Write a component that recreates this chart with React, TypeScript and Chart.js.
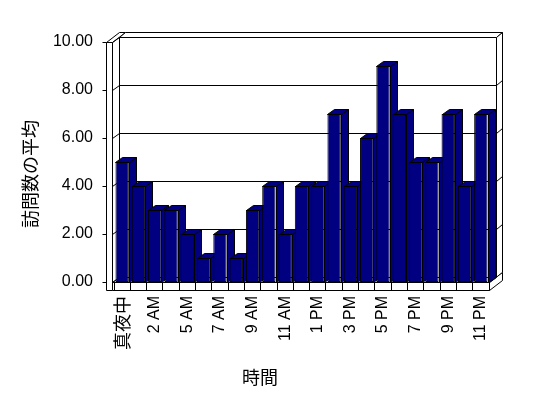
import { useEffect, useRef } from 'react';
import { Chart, registerables } from 'chart.js';
Chart.register(...registerables);

const hours = ['真夜中', '1 AM', '2 AM', '3 AM', '5 AM', '6 AM', '7 AM', '8 AM', '9 AM', '10 AM', '11 AM', '正午',
  '1 PM', '2 PM', '3 PM', '4 PM', '5 PM', '6 PM', '7 PM', '8 PM', '9 PM', '10 PM', '11 PM'];
const visits = [5, 4, 3, 3, 2, 1, 2, 1, 3, 4, 2, 4, 4, 7, 4, 6, 9, 7, 5, 5, 7, 4, 7];
const yTickValues = [0, 2, 4, 6, 8, 10];
const xTitle = '時間';
const yTitle = '訪問数の平均';

const LAT = '"Liberation Sans", Arial, "Noto Sans CJK JP", sans-serif';
const CJK = '"Noto Sans CJK JP", "Liberation Sans", sans-serif';
const NAVY = '#000080';

const sn = (v: number) => Math.round(v) + 0.5;

function poly(ctx: CanvasRenderingContext2D, pts: number[][], fill?: string) {
  ctx.beginPath();
  pts.forEach((p, i) => (i ? ctx.lineTo(sn(p[0]), sn(p[1])) : ctx.moveTo(sn(p[0]), sn(p[1]))));
  ctx.closePath();
  if (fill) { ctx.fillStyle = fill; ctx.fill(); }
  ctx.stroke();
}

const threeD = {
  id: 'threeD',
  beforeDatasetsDraw(chart: any) {
    const { ctx, chartArea: a, scales } = chart;
    const ys = scales.y;
    const L = a.left, R = a.right, T = a.top, B = a.bottom;
    const WO = L - 8, WI = L - 2;
    const dx = 7, dy = -5, ex = 13, ey = -10, fh = 8;
    ctx.save();
    ctx.lineWidth = 1;
    ctx.strokeStyle = '#000';
    // back wall inner face
    poly(ctx, [[WI + dx, T + dy], [R + dx, T + dy], [R + dx, B + dy], [WI + dx, B + dy]], '#fff');
    // left wall top
    poly(ctx, [[WO, T], [WI, T], [WI + ex, T + ey], [WO + ex, T + ey]], '#fff');
    // back wall top
    poly(ctx, [[WI + dx, T + dy], [R + dx, T + dy], [R + ex, T + ey], [WI + ex, T + ey]], '#fff');
    // back wall right face
    poly(ctx, [[R + dx, T + dy], [R + ex, T + ey], [R + ex, B + ey], [R + dx, B + dy]], '#fff');
    // floor right face
    poly(ctx, [[R, B], [R + ex, B + ey], [R + ex, B + ey + fh], [R, B + fh]], '#fff');
    // floor top face
    poly(ctx, [[WI, B], [R, B], [R + dx, B + dy], [WI + dx, B + dy]]);
    // floor front face (outline only, keeps axis tick marks)
    poly(ctx, [[WI, B], [R, B], [R, B + fh], [WI, B + fh]]);
    // left wall inner face
    poly(ctx, [[WI, T], [WI + dx, T + dy], [WI + dx, B + dy], [WI, B]]);
    // left wall front face
    poly(ctx, [[WO, T], [WI, T], [WI, B + fh], [WO, B + fh]], '#fff');
    // gridlines and y tick marks
    yTickValues.forEach((v) => {
      const yy = ys.getPixelForValue(v);
      ctx.beginPath();
      ctx.moveTo(sn(WO - 4), sn(yy));
      ctx.lineTo(sn(WO), sn(yy));
      ctx.stroke();
      if (v > 0 && v < 10) {
        ctx.beginPath();
        ctx.moveTo(sn(WI), sn(yy));
        ctx.lineTo(sn(WI + dx), sn(yy + dy));
        ctx.lineTo(sn(R + dx), sn(yy + dy));
        ctx.lineTo(sn(R + ex), sn(yy + ey));
        ctx.stroke();
      }
    });
    // bar side and top faces, left to right
    const meta = chart.getDatasetMeta(0);
    meta.data.forEach((bar: any) => {
      const { x, y, base, width } = bar.getProps(['x', 'y', 'base', 'width'], true);
      const l = x - width / 2, r = x + width / 2;
      poly(ctx, [[r, y], [r + dx, y + dy], [r + dx, base + dy], [r, base]], NAVY);
      poly(ctx, [[l, y], [r, y], [r + dx, y + dy], [l + dx, y + dy]], NAVY);
    });
    ctx.restore();
  },
  afterDraw(chart: any) {
    const { ctx } = chart;
    ctx.save();
    ctx.fillStyle = '#000';
    ctx.font = '18px ' + CJK;
    ctx.textAlign = 'center';
    ctx.textBaseline = 'middle';
    ctx.fillText(xTitle, 260, 377);
    ctx.translate(30, 174);
    ctx.rotate(-Math.PI / 2);
    ctx.fillText(yTitle, 0, 0);
    ctx.restore();
  },
};

export default function App() {
  const ref = useRef<HTMLCanvasElement | null>(null);
  useEffect(() => {
    document.body.style.margin = '0';
    const chart = new Chart(ref.current as HTMLCanvasElement, {
      type: 'bar',
      data: {
        labels: hours,
        datasets: [{
          data: visits,
          backgroundColor: NAVY,
          borderColor: '#000',
          borderWidth: 1,
          borderSkipped: false,
          categoryPercentage: 1,
          barPercentage: 0.82,
        }],
      },
      options: {
        animation: false,
        responsive: false,
        devicePixelRatio: 1,
        layout: { padding: { left: 0, right: 59, top: 42, bottom: 0 } },
        plugins: { legend: { display: false }, tooltip: { enabled: false }, title: { display: false } },
        scales: {
          x: {
            afterFit: (s: any) => { s.height = 116; },
            grid: { display: true, drawOnChartArea: false, drawTicks: true, tickLength: 8, color: '#000', offset: true },
            border: { display: false },
            ticks: {
              autoSkip: false,
              minRotation: 90,
              maxRotation: 90,
              padding: 6,
              color: '#000',
              font: (c: any) => (c.index === 0 ? { family: CJK, size: 18 } : { family: LAT, size: 16 }),
              callback: (_v: any, i: number) => (i % 2 === 0 ? hours[i] : ''),
            },
          },
          y: {
            min: 0,
            max: 10,
            afterFit: (s: any) => { s.width = 114; },
            grid: { display: false, drawTicks: false },
            border: { display: false },
            ticks: {
              stepSize: 2,
              padding: 21,
              color: '#000',
              font: { family: LAT, size: 16 },
              callback: (v: any) => Number(v).toFixed(2),
            },
          },
        },
      },
      plugins: [threeD],
    });
    return () => chart.destroy();
  }, []);
  return <canvas ref={ref} width={548} height={398} style={{ display: 'block' }} />;
}
